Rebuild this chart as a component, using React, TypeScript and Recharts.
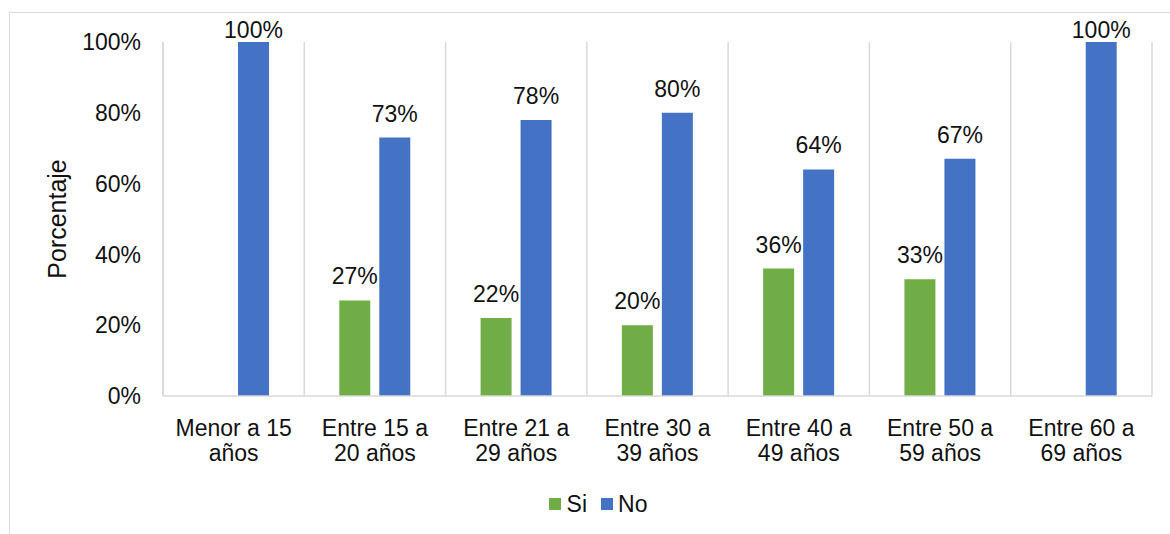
import React from "react";
import {
  BarChart,
  Bar,
  XAxis,
  YAxis,
  CartesianGrid,
  Legend,
  LabelList,
} from "recharts";

const categories = [
  "Menor a 15|años",
  "Entre 15 a|20 años",
  "Entre 21 a|29 años",
  "Entre 30 a|39 años",
  "Entre 40 a|49 años",
  "Entre 50 a|59 años",
  "Entre 60 a|69 años",
];
const siValues: (number | null)[] = [null, 27, 22, 20, 36, 33, null];
const noValues: (number | null)[] = [100, 73, 78, 80, 64, 67, 100];
const yTicks = [0, 20, 40, 60, 80, 100];

const GREEN = "#70ad47";
const BLUE = "#4472c4";
const GRID = "#d9d9d9";
const TEXT = "#111";
const FONT = "'Liberation Sans', Arial, sans-serif";
const FS = 23;

const data = categories.map((c, i) => ({ name: c, si: siValues[i], no: noValues[i] }));

const CategoryTick = (props: any) => {
  const { x, y, payload } = props;
  const lines = String(payload.value).split("|");
  return (
    <g transform={`translate(${x},${y})`}>
      {lines.map((l, i) => (
        <text
          key={i}
          x={0}
          y={32 + i * 25}
          textAnchor="middle"
          fontSize={FS}
          fontFamily={FONT}
          fill={TEXT}
        >
          {l}
        </text>
      ))}
    </g>
  );
};

// etiqueta encima de la barra, sin salirse del área del gráfico
const BarLabel = (props: any) => {
  const { x, y, width, value } = props;
  if (value === null || value === undefined) return null;
  const ty = Math.max(Number(y) - 16, 38);
  return (
    <text
      x={Number(x) + Number(width) / 2}
      y={ty}
      textAnchor="middle"
      fontSize={FS}
      fontFamily={FONT}
      fill={TEXT}
    >
      {`${value}%`}
    </text>
  );
};

const LegendContent = () => (
  <div
    style={{
      display: "flex",
      justifyContent: "center",
      alignItems: "center",
      fontFamily: FONT,
      fontSize: FS,
      color: TEXT,
      lineHeight: "26px",
    }}
  >
    <span style={{ width: 12, height: 12, background: GREEN, display: "inline-block", marginRight: 6 }} />
    <span style={{ marginRight: 14 }}>Si</span>
    <span style={{ width: 12, height: 12, background: BLUE, display: "inline-block", marginRight: 5 }} />
    <span>No</span>
  </div>
);

export default function App() {
  return (
    <div
      style={{
        position: "absolute",
        left: 0,
        top: 0,
        width: 1170,
        height: 534,
        background: "#fff",
        overflow: "hidden",
      }}
    >
      <div
        style={{
          position: "absolute",
          left: 9,
          top: 12,
          width: 1180,
          height: 540,
          border: `1.5px solid ${GRID}`,
        }}
      />
      <BarChart
        width={1170}
        height={534}
        data={data}
        margin={{ top: 42, right: 18, bottom: 78, left: 103 }}
        barSize={31}
        barGap={9}
      >
        <CartesianGrid
          horizontal={false}
          stroke={GRID}
          strokeWidth={1.5}
          verticalCoordinatesGenerator={({ offset }: any) =>
            categories
              .map((_, i) => offset.left + (i * offset.width) / categories.length)
              .concat(offset.left + offset.width)
          }
        />
        <XAxis
          dataKey="name"
          tickLine={false}
          axisLine={{ stroke: GRID, strokeWidth: 1.5 }}
          tick={<CategoryTick />}
          height={60}
          interval={0}
        />
        <YAxis
          domain={[0, 100]}
          ticks={yTicks}
          tickFormatter={(v) => `${v}%`}
          tickLine={false}
          tickSize={0}
          tickMargin={22}
          axisLine={{ stroke: GRID, strokeWidth: 1.5 }}
          width={60}
          tick={{ fontSize: FS, fill: TEXT, fontFamily: FONT }}
          label={{
            value: "Porcentaje",
            angle: -90,
            position: "insideLeft",
            dx: -51,
            style: { fontSize: 25, fill: TEXT, fontFamily: FONT, textAnchor: "middle" },
          }}
        />
        <Legend
          layout="horizontal"
          verticalAlign="middle"
          align="center"
          content={<LegendContent />}
          wrapperStyle={{ top: 491, left: 13, width: 1170 }}
        />
        <Bar dataKey="si" name="Si" fill={GREEN} isAnimationActive={false}>
          <LabelList dataKey="si" content={<BarLabel />} />
        </Bar>
        <Bar dataKey="no" name="No" fill={BLUE} isAnimationActive={false}>
          <LabelList dataKey="no" content={<BarLabel />} />
        </Bar>
      </BarChart>
    </div>
  );
}
